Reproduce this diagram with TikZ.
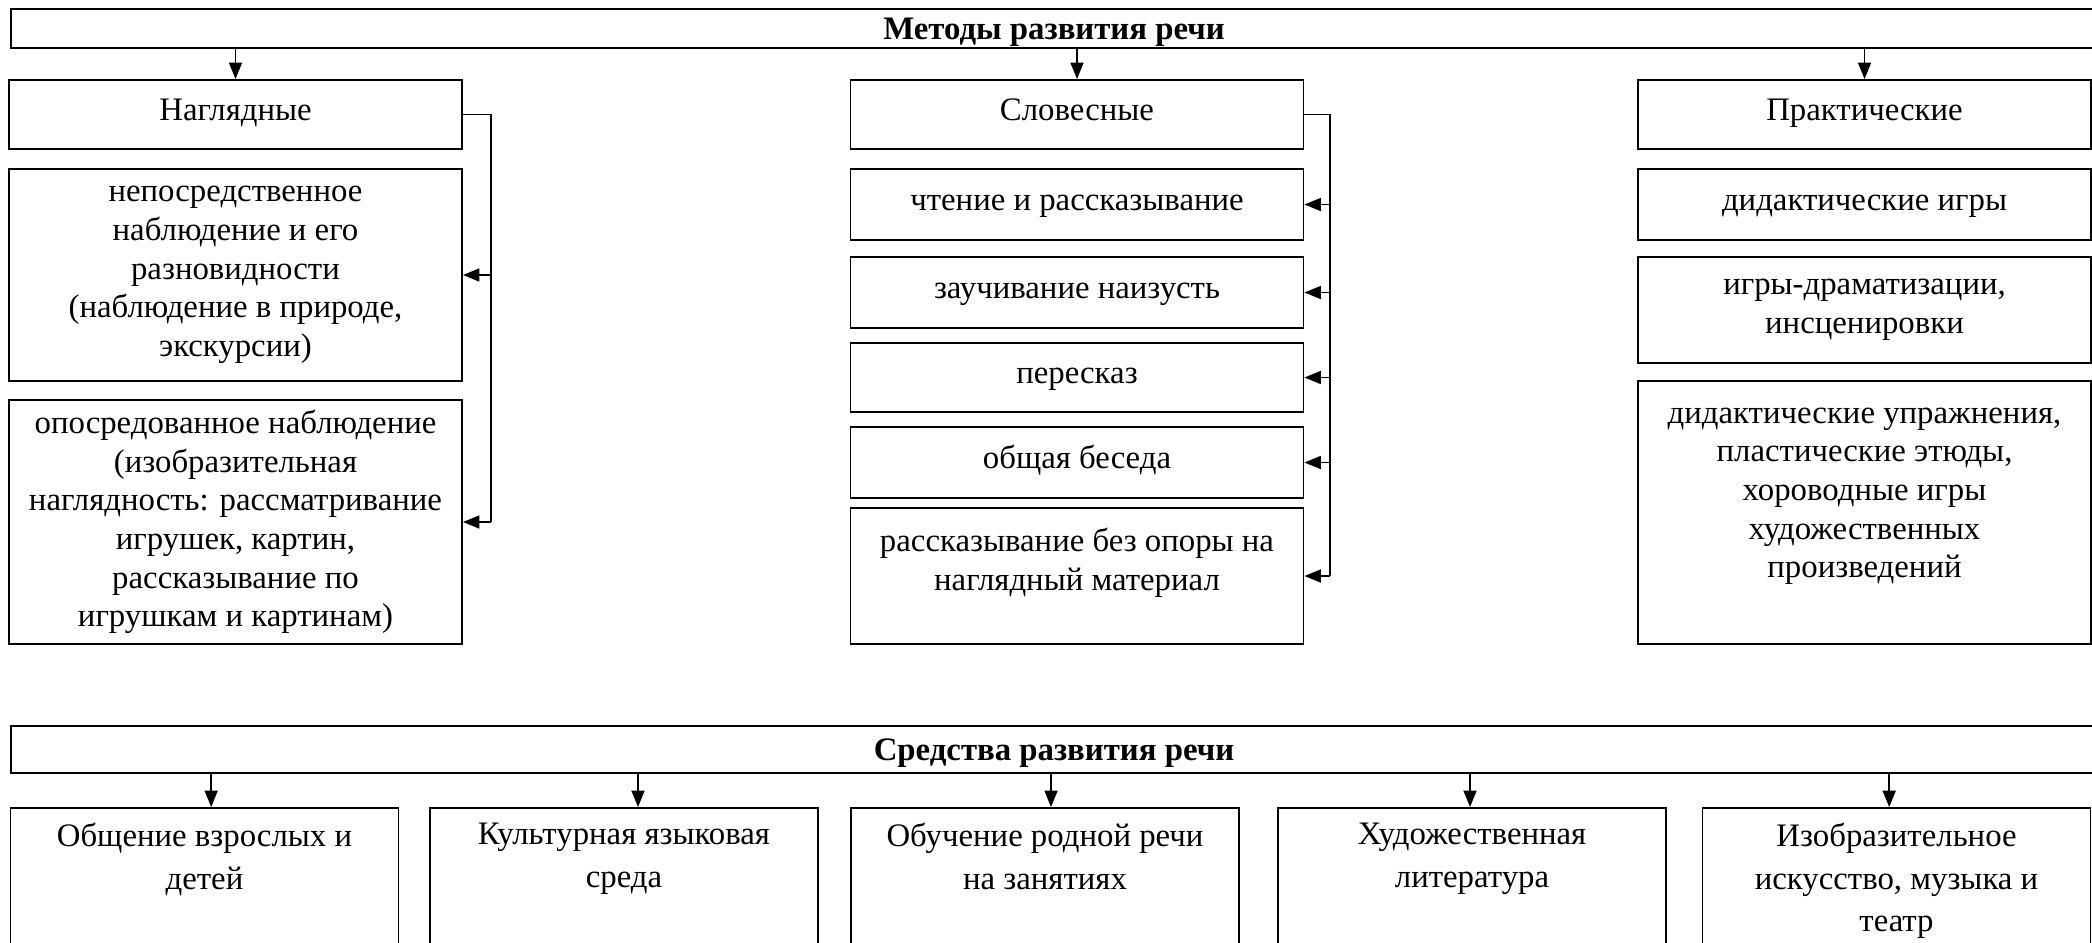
\documentclass[tikz,border=0pt]{standalone}
\usepackage{fontspec}
\setmainfont{Liberation Serif}
\usepackage{tikz}
\usetikzlibrary{arrows.meta, positioning}
\newcommand{\px}{0.015cm}
\tikzset{
  box/.style={draw, line width=0.8pt, align=center, inner sep=2pt,
    font=\fontsize{14}{16.5}\selectfont},
  one/.style={text height=10pt, text depth=5pt},
  head/.style={box, text height=11pt, text depth=2pt, inner ysep=1pt, line width=1.1pt,
    font=\fontsize{14}{16.5}\selectfont\bfseries},
  lcol/.style={box, minimum width=453*\px},
  bcol/.style={box, minimum width=388*\px, minimum height=192*\px},
  txt/.style={align=center, inner sep=0pt, font=\fontsize{14}{16.5}\selectfont},
  btxt/.style={txt, font=\fontsize{14}{18.3}\selectfont},
}

\begin{document}
\begin{tikzpicture}[x=0.015cm, y=-0.015cm, >={Triangle[length=7pt, width=5.5pt]}, line width=0.8pt]
  \useasboundingbox (0,0) rectangle (2092,942);
  \clip (0,0) rectangle (2092,942);
  % Методы развития речи
  \node[head, minimum width=2086*\px, minimum height=39*\px] (metody) at (1054,28.5) {Методы развития речи};
  % Наглядные
  \node[lcol, one, minimum height=69*\px] (nagl) at (235.5,114.5) {Наглядные};
  \node[lcol, minimum height=212*\px] (nagl2) at (235.5,275) {непосредственное\\наблюдение и его\\разновидности\\(наблюдение в природе,\\экскурсии)};
  \node[lcol, minimum height=244*\px] (nagl3) at (235.5,522) {опосредованное наблюдение\\(изобразительная\\наглядность: рассматривание\\игрушек, картин,\\рассказывание по\\игрушкам и картинам)};
  % Словесные
  \node[lcol, one, minimum height=69*\px] (slov) at (1077,114.5) {Словесные};
  \node[lcol, one, minimum height=71*\px] (slov1) at (1077,204.5) {чтение и рассказывание};
  \node[lcol, one, minimum height=71*\px] (slov2) at (1077,292.5) {заучивание наизусть};
  \node[lcol, one, minimum height=69*\px] (slov3) at (1077,377.5) {пересказ};
  \node[lcol, one, minimum height=71*\px] (slov4) at (1077,462.5) {общая беседа};
  \node[lcol, minimum height=136*\px] (slov5) at (1077,576) {};
  \node[txt, below=0.3cm of slov5.north] (slov5t) {рассказывание без опоры на\\наглядный материал};
  % Практические
  \node[lcol, one, minimum height=69*\px] (prakt) at (1864.5,114.5) {Практические};
  \node[lcol, one, minimum height=71*\px] (prakt1) at (1864.5,204.5) {дидактические игры};
  \node[lcol, minimum height=106*\px] (prakt2) at (1864.5,310) {игры-драматизации,\\инсценировки};
  \node[lcol, minimum height=263*\px] (prakt3) at (1864.5,512.5) {};
  \node[txt, below=0.4cm of prakt3.north] (prakt3t) {дидактические упражнения,\\пластические этюды,\\хороводные игры\\художественных\\произведений};

  \foreach \n in {nagl, slov, prakt}
    \draw[->] (metody.south -| \n.north) -- (\n.north);

  % скобки
  \coordinate (nbus) at (491,0);
  \draw (nagl.east) -| (nbus |- nagl3.east);
  \foreach \n in {nagl2, nagl3}
    \draw[->] (nbus |- \n.east) -- (\n.east);
  \coordinate (sbus) at (1330,0);
  \draw (slov.east) -| (sbus |- slov5.east);
  \foreach \n in {slov1, slov2, slov3, slov4, slov5}
    \draw[->] (sbus |- \n.east) -- (\n.east);

  % Средства развития речи
  \node[head, minimum width=2086*\px, minimum height=47*\px] (sredstva) at (1054,749.5) {Средства развития речи};
  \node[bcol] (sr1) at (204.5,904) {};
  \node[bcol] (sr2) at (624,904) {};
  \node[bcol] (sr3) at (1045,904) {};
  \node[bcol] (sr4) at (1472,904) {};
  \node[bcol] (sr5) at (1896.5,904) {};
  \node[btxt, below=0.22cm of sr1.north] (sr1t) {Общение взрослых и\\детей};
  \node[btxt, below=0.22cm of sr2.north] (sr2t) {Культурная языковая\\среда};
  \node[btxt, below=0.22cm of sr3.north] (sr3t) {Обучение родной речи\\на занятиях};
  \node[btxt, below=0.22cm of sr4.north] (sr4t) {Художественная\\литература};
  \node[btxt, below=0.22cm of sr5.north] (sr5t) {Изобразительное\\искусство, музыка и\\театр};
  \foreach \n/\dx in {sr1/0.1cm, sr2/0.21cm, sr3/0.09cm, sr4/-0.03cm, sr5/-0.11cm}
    \draw[->] ([xshift=\dx]sredstva.south -| \n.north) -- ([xshift=\dx]\n.north);
\end{tikzpicture}
\end{document}
